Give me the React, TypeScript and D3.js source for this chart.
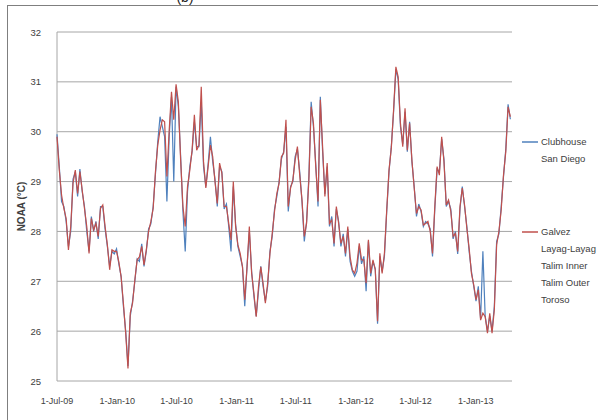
import React from 'react';
import * as d3 from 'd3';

// weekly NOAA SST, first week 1-Jul-2009
const startDate = new Date(2009, 6, 1);
const stepDays = 7;

const clubhouseSanDiego = [
  29.95, 29.3, 28.6, 28.5, 28.2, 27.7, 28.0, 29.05, 29.2, 28.7, 29.25, 28.8, 28.5, 28.0, 27.6, 28.3, 28.0, 28.2, 27.85, 28.5,
  28.5, 28.05, 27.7, 27.3, 27.6, 27.55, 27.65, 27.35, 27.1, 26.5, 26.0, 25.3, 26.3, 26.6, 27.0, 27.45, 27.4, 27.75, 27.3, 27.6,
  28.05, 28.15, 28.5, 29.15, 29.8, 30.3, 30.1, 29.9, 28.6, 29.9, 30.7, 29.0, 30.9, 30.5, 29.5, 28.4, 27.6, 28.8, 29.3, 29.6,
  30.2, 29.7, 29.7, 30.6, 29.3, 28.9, 29.35, 29.9, 29.4, 29.05, 28.5, 29.3, 29.2, 28.45, 28.55, 28.1, 27.6, 28.9, 28.15, 27.7,
  27.5, 27.3, 26.5, 27.3, 28.0, 27.2, 26.7, 26.3, 26.8, 27.3, 26.9, 26.6, 26.9, 27.6, 27.9, 28.45, 28.7, 29.0, 29.45, 29.6,
  30.1, 28.4, 28.9, 29.0, 29.5, 29.65, 29.2, 28.6, 27.8, 28.2, 29.1, 30.6, 30.1, 29.35, 28.5, 30.7, 29.6, 28.75, 29.3, 28.1,
  28.3, 27.7, 28.45, 28.2, 27.7, 27.95, 27.5, 28.05, 27.4, 27.2, 27.1, 27.2, 27.7, 27.35, 27.5, 26.8, 27.8, 27.1, 27.4, 27.25,
  26.15, 27.5, 27.2, 27.5, 28.4, 29.2, 29.7, 30.4, 31.25, 31.05, 30.1, 29.75, 30.4, 29.6, 30.2, 29.4, 28.9, 28.3, 28.55, 28.4,
  28.1, 28.2, 28.15, 28.05, 27.5, 28.45, 29.25, 29.2, 29.85, 29.45, 28.5, 28.6, 28.45, 27.85, 28.0, 27.55, 28.45, 28.9, 28.5, 28.1,
  27.6, 27.2, 26.9, 26.6, 26.9, 26.25, 27.6, 26.3, 26.0, 26.3, 26.0, 26.5, 27.8, 27.95, 28.5, 29.1, 29.65, 30.55, 30.25,
];

const galvezToroso = [
  29.9, 29.23, 28.73, 28.46, 28.26, 27.63, 28.1, 28.97, 29.23, 28.76, 29.2, 28.83, 28.46, 28.1, 27.56, 28.26, 28.03, 28.16, 27.9, 28.46,
  28.53, 28.1, 27.73, 27.23, 27.63, 27.6, 27.6, 27.39, 27.09, 26.56, 25.96, 25.25, 26.36, 26.56, 27.03, 27.43, 27.49, 27.7, 27.33, 27.63,
  28.0, 28.2, 28.46, 29.2, 29.73, 30.03, 30.24, 30.2, 29.1, 30.03, 30.8, 30.24, 30.95, 30.6, 29.43, 28.5, 28.1, 28.9, 29.23, 29.63,
  30.34, 29.63, 29.73, 30.9, 29.4, 28.87, 29.3, 29.73, 29.5, 29.0, 28.56, 29.37, 29.17, 28.5, 28.5, 28.16, 27.83, 29.0, 28.1, 27.73,
  27.56, 27.29, 26.63, 27.29, 28.1, 27.16, 26.76, 26.29, 26.89, 27.29, 26.96, 26.56, 26.96, 27.56, 27.96, 28.4, 28.76, 28.97, 29.5, 29.57,
  30.24, 28.5, 28.87, 29.03, 29.43, 29.7, 29.13, 28.63, 27.9, 28.16, 29.03, 30.5, 30.17, 29.3, 28.6, 30.64, 29.7, 28.7, 29.37, 28.16,
  28.23, 27.76, 28.5, 28.16, 27.76, 27.9, 27.56, 28.1, 27.49, 27.23, 27.16, 27.36, 27.76, 27.43, 27.43, 26.96, 27.83, 27.16, 27.43, 27.23,
  26.2, 27.56, 27.16, 27.56, 28.43, 29.23, 29.67, 30.44, 31.3, 31.1, 30.17, 29.7, 30.47, 29.63, 30.17, 29.43, 28.87, 28.36, 28.5, 28.43,
  28.13, 28.16, 28.2, 28.0, 27.56, 28.5, 29.3, 29.13, 29.9, 29.4, 28.53, 28.63, 28.4, 27.9, 27.96, 27.6, 28.5, 28.87, 28.53, 28.06,
  27.66, 27.16, 26.93, 26.63, 26.83, 26.22, 26.36, 26.29, 25.96, 26.36, 25.96, 26.43, 27.73, 28.0, 28.43, 29.13, 29.6, 30.5, 30.3,
];

const yTicks = [25, 26, 27, 28, 29, 30, 31, 32];
const xTickDates = [
  new Date(2009, 6, 1), new Date(2010, 0, 1), new Date(2010, 6, 1), new Date(2011, 0, 1),
  new Date(2011, 6, 1), new Date(2012, 0, 1), new Date(2012, 6, 1), new Date(2013, 0, 1),
];
const legendBlue = ['Clubhouse', 'San Diego'];
const legendRed = ['Galvez', 'Layag-Layag', 'Talim Inner', 'Talim Outer', 'Toroso'];

const W = 598;
const H = 420;
const left = 57;
const right = 512;
const top = 32;
const bottom = 381;
const font = "'Liberation Sans', Arial, sans-serif";
const textColor = '#404040';

export default function App() {
  const x = d3.scaleTime()
    .domain([startDate, new Date(2013, 3, 22)])
    .range([left, right]);
  const y = d3.scaleLinear().domain([25, 32]).range([bottom, top]);
  const fmt = d3.timeFormat('%-d-%b-%y');

  const dateAt = (i: number) => d3.timeDay.offset(startDate, i * stepDays);
  const line = d3.line<number>()
    .x((_, i) => x(dateAt(i)))
    .y(d => y(d));

  return (
    <svg width={W} height={H} style={{ position: 'absolute', left: 0, top: 0, background: '#fff' }}>
      <rect x={7.5} y={5.5} width={600} height={430} fill="#fff" stroke="#7f7f7f" strokeWidth={1} />
      <text x={185} y={2} fontSize={14} fontFamily={font} textAnchor="middle" fill="#222">(b)</text>

      {yTicks.map(t => (
        <g key={t}>
          <line x1={left} x2={right} y1={y(t)} y2={y(t)} stroke="#a6a6a6" strokeWidth={1} />
          <text x={41} y={y(t) + 3.5} fontSize={9.5} fontFamily={font} textAnchor="end" fill={textColor}>{t}</text>
        </g>
      ))}
      <line x1={left} x2={left} y1={top} y2={bottom} stroke="#a6a6a6" strokeWidth={1} />

      {xTickDates.map(d => (
        <text key={+d} x={x(d)} y={404} fontSize={9} fontFamily={font} textAnchor="middle" fill={textColor}>{fmt(d)}</text>
      ))}

      <text transform={`translate(25,${(top + bottom) / 2}) rotate(-90)`} fontSize={10} fontWeight="bold"
        fontFamily={font} textAnchor="middle" fill={textColor}>NOAA (°C)</text>

      <path d={line(clubhouseSanDiego) ?? ''} fill="none" stroke="#4f81bd" strokeWidth={1.2} />
      <path d={line(galvezToroso) ?? ''} fill="none" stroke="#c0504d" strokeWidth={1.2} />

      <line x1={522} x2={538} y1={142} y2={142} stroke="#4f81bd" strokeWidth={1.5} />
      {legendBlue.map((s, i) => (
        <text key={s} x={541} y={145 + i * 17} fontSize={9.5} fontFamily={font} fill={textColor}>{s}</text>
      ))}
      <line x1={522} x2={538} y1={232} y2={232} stroke="#c0504d" strokeWidth={1.5} />
      {legendRed.map((s, i) => (
        <text key={s} x={541} y={235 + i * 17} fontSize={9.5} fontFamily={font} fill={textColor}>{s}</text>
      ))}
    </svg>
  );
}
